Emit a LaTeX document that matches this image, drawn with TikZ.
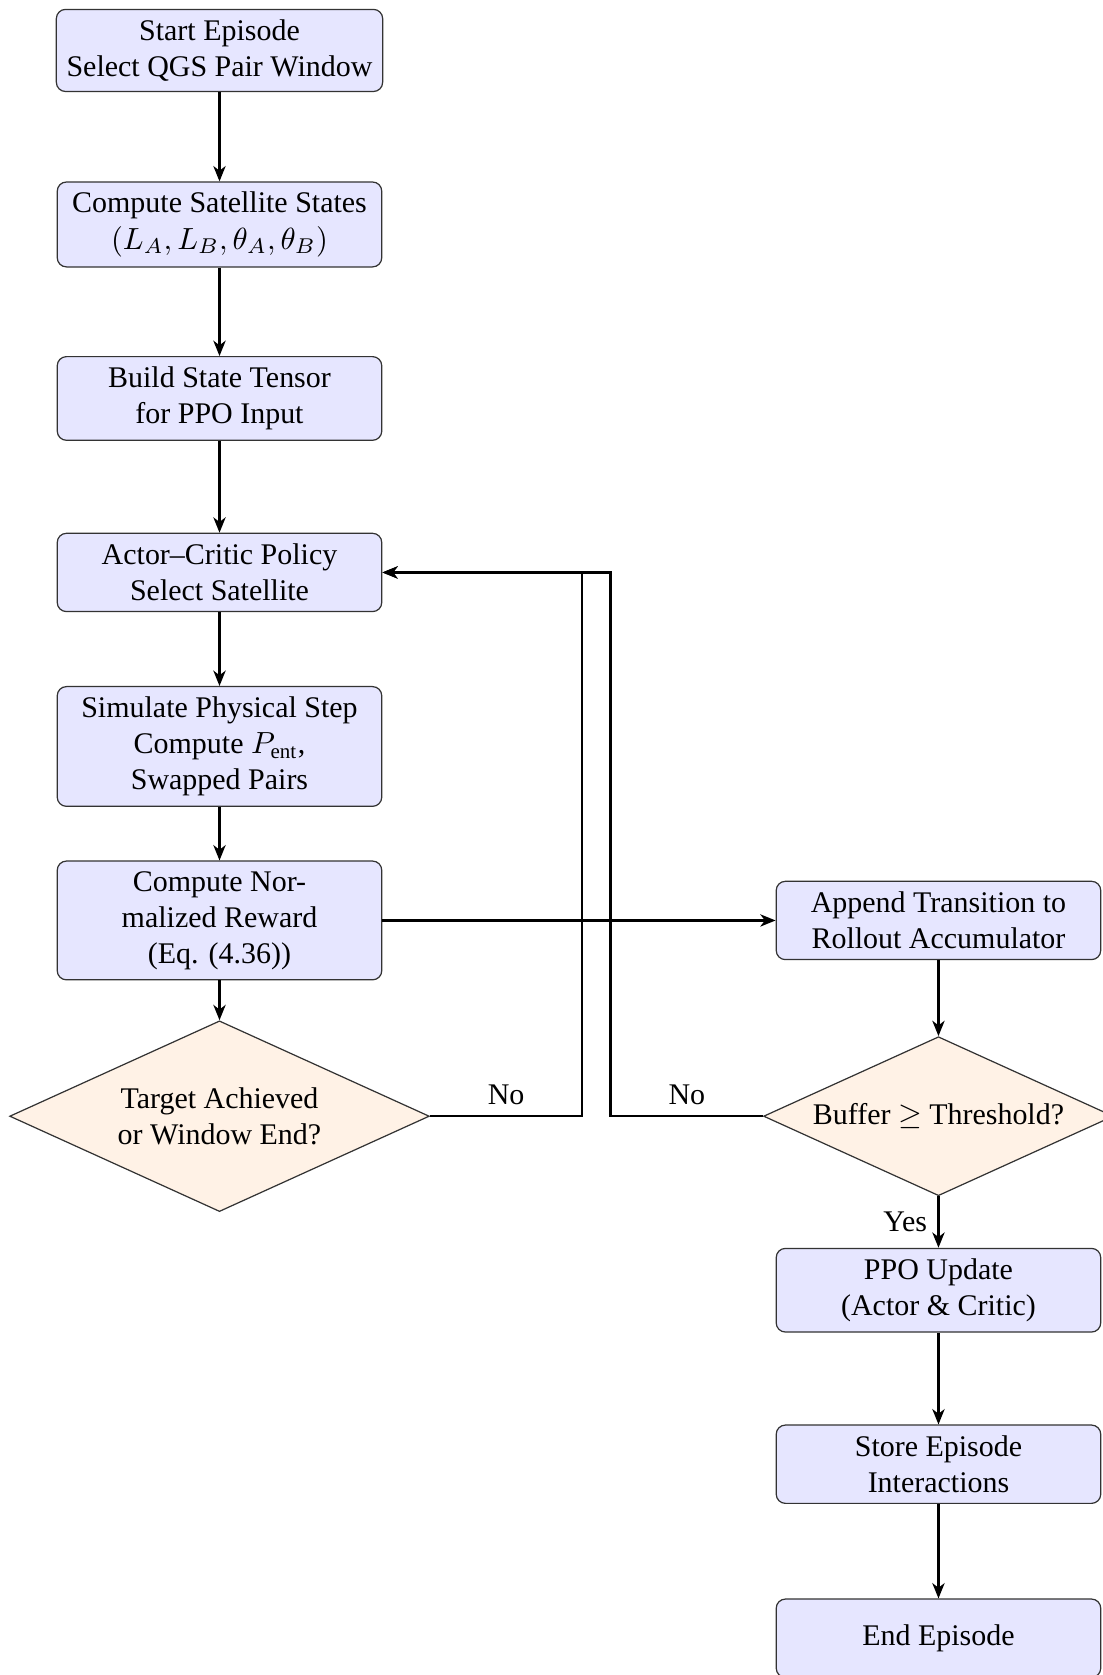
\documentclass[tikz,border=0pt]{standalone}
\usepackage[no-math]{fontspec}
\setmainfont{Liberation Serif}
\usepackage{amsmath}
\usetikzlibrary{positioning,shapes.geometric,arrows.meta}
\definecolor{boxfill}{HTML}{E6E6FF}
\definecolor{decfill}{HTML}{FFF2E6}

\begin{document}
\begin{tikzpicture}[x=1cm,y=1cm,node distance=2cm,on grid,
    txt/.style={font=\fontsize{9.8}{11.8}\selectfont},
    procbox/.style={txt,draw=black!80,thin,fill=boxfill,rounded corners=3pt,
      align=center,minimum width=3.73cm,minimum height=0.9cm},
    decbox/.style={txt,draw=black!80,thin,fill=decfill,diamond,aspect=2.2,
      align=center,inner sep=2.2pt},
    flow/.style={thick,-{Stealth[length=5pt,width=4pt,inset=1.5pt]}}]
  \useasboundingbox (0,0) rectangle (12.667,-19.253);

  % main loop, left column
  \node[procbox] (start) at (2.523,-0.580) {Start Episode\\Select QGS Pair Window};
  \node[procbox,below=of start] (states) {Compute Satellite States\\$(L_A, L_B, \theta_A, \theta_B)$};
  \node[procbox,below=of states] (tensor) {Build State Tensor\\for PPO Input};
  \node[procbox,below=of tensor] (actor) {Actor--Critic Policy\\Select Satellite};
  \node[procbox,below=of actor] (simulate) {Simulate Physical Step\\Compute $P_{\text{ent}}$,\\Swapped Pairs};
  \node[procbox,below=of simulate] (reward) {Compute Nor-\\malized Reward\\(Eq. (4.36))};
  \node[decbox,inner sep=4.6pt,below=2.25cm of reward] (target) {Target Achieved\\or Window End?};

  % rollout and update, right column
  \node[procbox,right=8.264cm of reward] (append) {Append Transition to\\Rollout Accumulator};
  \node[decbox,below=2.25cm of append] (buffer) {Buffer $\geq$ Threshold?};
  \node[procbox,below=of buffer] (ppo) {PPO Update\\(Actor \& Critic)};
  \node[procbox,below=of ppo] (store) {Store Episode\\Interactions};
  \node[procbox,below=of store] (stop) {End Episode};

  \foreach \a/\b in {start/states,states/tensor,tensor/actor,actor/simulate,
      simulate/reward,reward/target,append/buffer,ppo/store,store/stop}
    \draw[flow] (\a) -- (\b);
  \draw[flow] (reward) -- (append);
  \draw[flow] (buffer) -- node[txt,left] {Yes} (ppo);
  \draw[flow] (target.east) -- node[txt,above] {No} ++(1.75,0) |- (actor.east);
  \draw[flow] (buffer.west) -- node[txt,above] {No} ++(-1.75,0) |- (actor.east);
\end{tikzpicture}
\end{document}
